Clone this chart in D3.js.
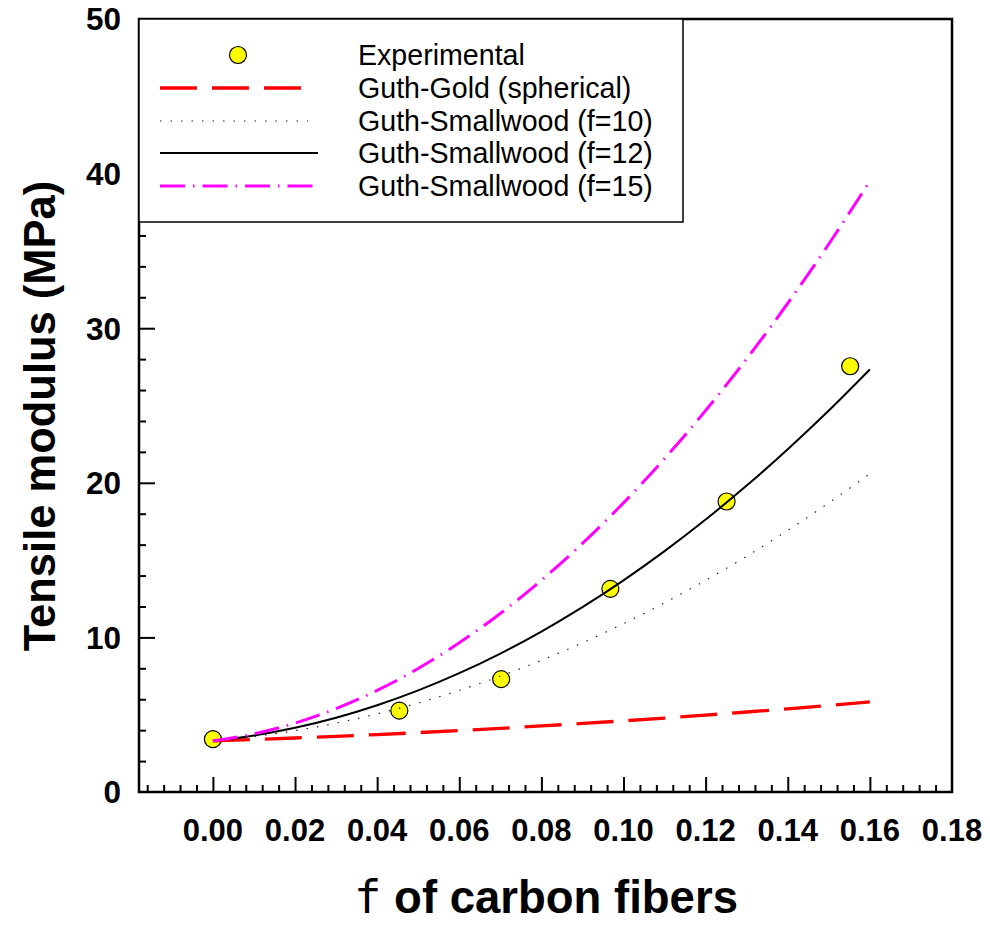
<!DOCTYPE html>
<html>
<head>
<meta charset="utf-8">
<script src="https://cdn.jsdelivr.net/npm/d3@7"></script>
<style>
  html, body { margin: 0; padding: 0; background: #fff; }
  svg { display: block; }
</style>
</head>
<body>
<div id="chart"></div>
<script>
// Volume fraction of carbon fibers (x) and measured tensile modulus (MPa)
const expPhi = [0.000, 0.0454, 0.0702, 0.0968, 0.1251, 0.1552];
const expModulus = [3.42, 5.26, 7.30, 13.14, 18.79, 27.54];

// Model curves sampled along the fraction axis
const modelPhi = [0.00, 0.01, 0.02, 0.03, 0.04, 0.05, 0.06, 0.07, 0.08,
                  0.09, 0.10, 0.11, 0.12, 0.13, 0.14, 0.15, 0.16];
const guthGold = [3.310, 3.397, 3.494, 3.600, 3.716, 3.840, 3.975, 4.118, 4.271,
                  4.433, 4.604, 4.785, 4.975, 5.174, 5.383, 5.601, 5.829];
const smallwoodF10 = [3.310, 3.585, 3.968, 4.458, 5.055, 5.759, 6.571, 7.490, 8.516,
                      9.649, 10.890, 12.238, 13.693, 15.255, 16.925, 18.702, 20.586];
const smallwoodF12 = [3.310, 3.653, 4.151, 4.803, 5.610, 6.571, 7.687, 8.956, 10.381,
                      11.960, 13.693, 15.580, 17.623, 19.819, 22.170, 24.675, 27.335];
const smallwoodF15 = [3.310, 3.763, 4.458, 5.394, 6.571, 7.989, 9.649, 11.550, 13.693,
                      16.077, 18.702, 21.568, 24.675, 28.024, 31.614, 35.446, 39.519];

const xMajorTicks = [0.00, 0.02, 0.04, 0.06, 0.08, 0.10, 0.12, 0.14, 0.16, 0.18];
const yMajorTicks = [0, 10, 20, 30, 40, 50];

const legendLabels = ["Experimental", "Guth-Gold (spherical)", "Guth-Smallwood (f=10)",
                      "Guth-Smallwood (f=12)", "Guth-Smallwood (f=15)"];

const W = 990, H = 926;
const plot = { left: 139, right: 952, top: 19, bottom: 792 };

const svg = d3.select("#chart").append("svg")
  .attr("width", W).attr("height", H)
  .style("font-family", "'Liberation Sans', Arial, Helvetica, sans-serif");

const x = d3.scaleLinear().domain([-0.018, 0.18]).range([plot.left, plot.right]);
const y = d3.scaleLinear().domain([0, 50]).range([plot.bottom, plot.top]);

// minor tick positions
const xMinor = d3.range(-0.016, 0.1801, 0.004).filter(v => Math.abs(v / 0.02 - Math.round(v / 0.02)) > 1e-6);
const yMinor = d3.range(2, 50, 2).filter(v => v % 10 !== 0);

// X axis: inward ticks
const gx = svg.append("g").attr("transform", `translate(0,${plot.bottom})`);
gx.call(d3.axisBottom(x).tickValues(xMinor).tickSizeInner(-7).tickSizeOuter(0).tickFormat(""));
gx.call(g => g.select(".domain").remove());
const gx2 = svg.append("g").attr("transform", `translate(0,${plot.bottom})`);
gx2.call(d3.axisBottom(x).tickValues(xMajorTicks.filter(v => v < 0.179)).tickSizeInner(-15).tickSizeOuter(0).tickFormat(""));
gx2.call(g => g.select(".domain").remove());

// X tick labels
svg.append("g").selectAll("text").data(xMajorTicks).join("text")
  .attr("x", d => x(d)).attr("y", 841)
  .attr("text-anchor", "middle")
  .attr("font-size", 31).attr("font-weight", "bold")
  .text(d3.format(".2f"));

// Y axis: inward ticks
const gy = svg.append("g").attr("transform", `translate(${plot.left},0)`);
gy.call(d3.axisLeft(y).tickValues(yMinor).tickSizeInner(-7).tickSizeOuter(0).tickFormat(""));
gy.call(g => g.select(".domain").remove());
const gy2 = svg.append("g").attr("transform", `translate(${plot.left},0)`);
gy2.call(d3.axisLeft(y).tickValues(yMajorTicks.filter(v => v > 0 && v < 50)).tickSizeInner(-16).tickSizeOuter(0).tickFormat(""));
gy2.call(g => g.select(".domain").remove());
svg.selectAll("g .tick line").attr("stroke", "#000").attr("stroke-width", 2);

svg.append("g").selectAll("text").data(yMajorTicks).join("text")
  .attr("x", 121).attr("y", d => y(d)).attr("dy", "0.36em")
  .attr("text-anchor", "end")
  .attr("font-size", 31.5).attr("font-weight", "bold")
  .text(d => d);

// Frame
svg.append("rect")
  .attr("x", plot.left).attr("y", plot.top)
  .attr("width", plot.right - plot.left).attr("height", plot.bottom - plot.top)
  .attr("fill", "none").attr("stroke", "#000").attr("stroke-width", 2.5);

// Axis titles
svg.append("text")
  .attr("transform", `translate(55,416) rotate(-90)`)
  .attr("text-anchor", "middle")
  .attr("font-size", 43.5).attr("font-weight", "bold")
  .text("Tensile modulus (MPa)");

const xt = svg.append("text")
  .attr("x", 546).attr("y", 913)
  .attr("text-anchor", "middle")
  .attr("font-size", 45.5).attr("font-weight", "bold");
xt.append("tspan").attr("font-family", "'DejaVu Sans Mono', monospace").attr("font-weight", "normal").text("f");
xt.append("tspan").text(" of carbon fibers");

// Legend
const legend = svg.append("g");
legend.append("rect")
  .attr("x", plot.left).attr("y", plot.top)
  .attr("width", 683 - plot.left).attr("height", 222 - plot.top)
  .attr("fill", "#fff").attr("stroke", "#000").attr("stroke-width", 1.5);

const series = [
  { values: guthGold, stroke: "#ff0000", width: 3.3, dash: "37,15" },
  { values: smallwoodF10, stroke: "#222", width: 1.2, dash: "1.5,9" },
  { values: smallwoodF12, stroke: "#000", width: 2, dash: null },
  { values: smallwoodF15, stroke: "#ff00ff", width: 3, dash: "25,8,1.5,8" }
];

const rowY = [55, 88, 121, 153, 186];
legend.selectAll("text").data(legendLabels).join("text")
  .attr("x", 358).attr("y", (d, i) => rowY[i]).attr("dy", "0.36em")
  .attr("font-size", 28.6)
  .text(d => d);

legend.append("circle")
  .attr("cx", 238).attr("cy", rowY[0]).attr("r", 8.5)
  .attr("fill", "#ffff00").attr("stroke", "#000").attr("stroke-width", 1.2);

const legendLineEnd = [303, 308, 318, 316];
series.forEach((s, i) => {
  legend.append("line")
    .attr("x1", 160).attr("x2", legendLineEnd[i])
    .attr("y1", rowY[i + 1]).attr("y2", rowY[i + 1])
    .attr("stroke", s.stroke).attr("stroke-width", s.width)
    .attr("stroke-dasharray", s.dash);
});

// Experimental points
svg.append("g").selectAll("circle").data(expPhi).join("circle")
  .attr("cx", d => x(d)).attr("cy", (d, i) => y(expModulus[i])).attr("r", 8.5)
  .attr("fill", "#ffff00").attr("stroke", "#000").attr("stroke-width", 1.2);

// Model curves
const line = d3.line()
  .x((d, i) => x(modelPhi[i]))
  .y(d => y(d))
  .curve(d3.curveMonotoneX);

series.forEach(s => {
  svg.append("path")
    .datum(s.values)
    .attr("d", line)
    .attr("fill", "none")
    .attr("stroke", s.stroke).attr("stroke-width", s.width)
    .attr("stroke-dasharray", s.dash);
});
</script>
</body>
</html>
